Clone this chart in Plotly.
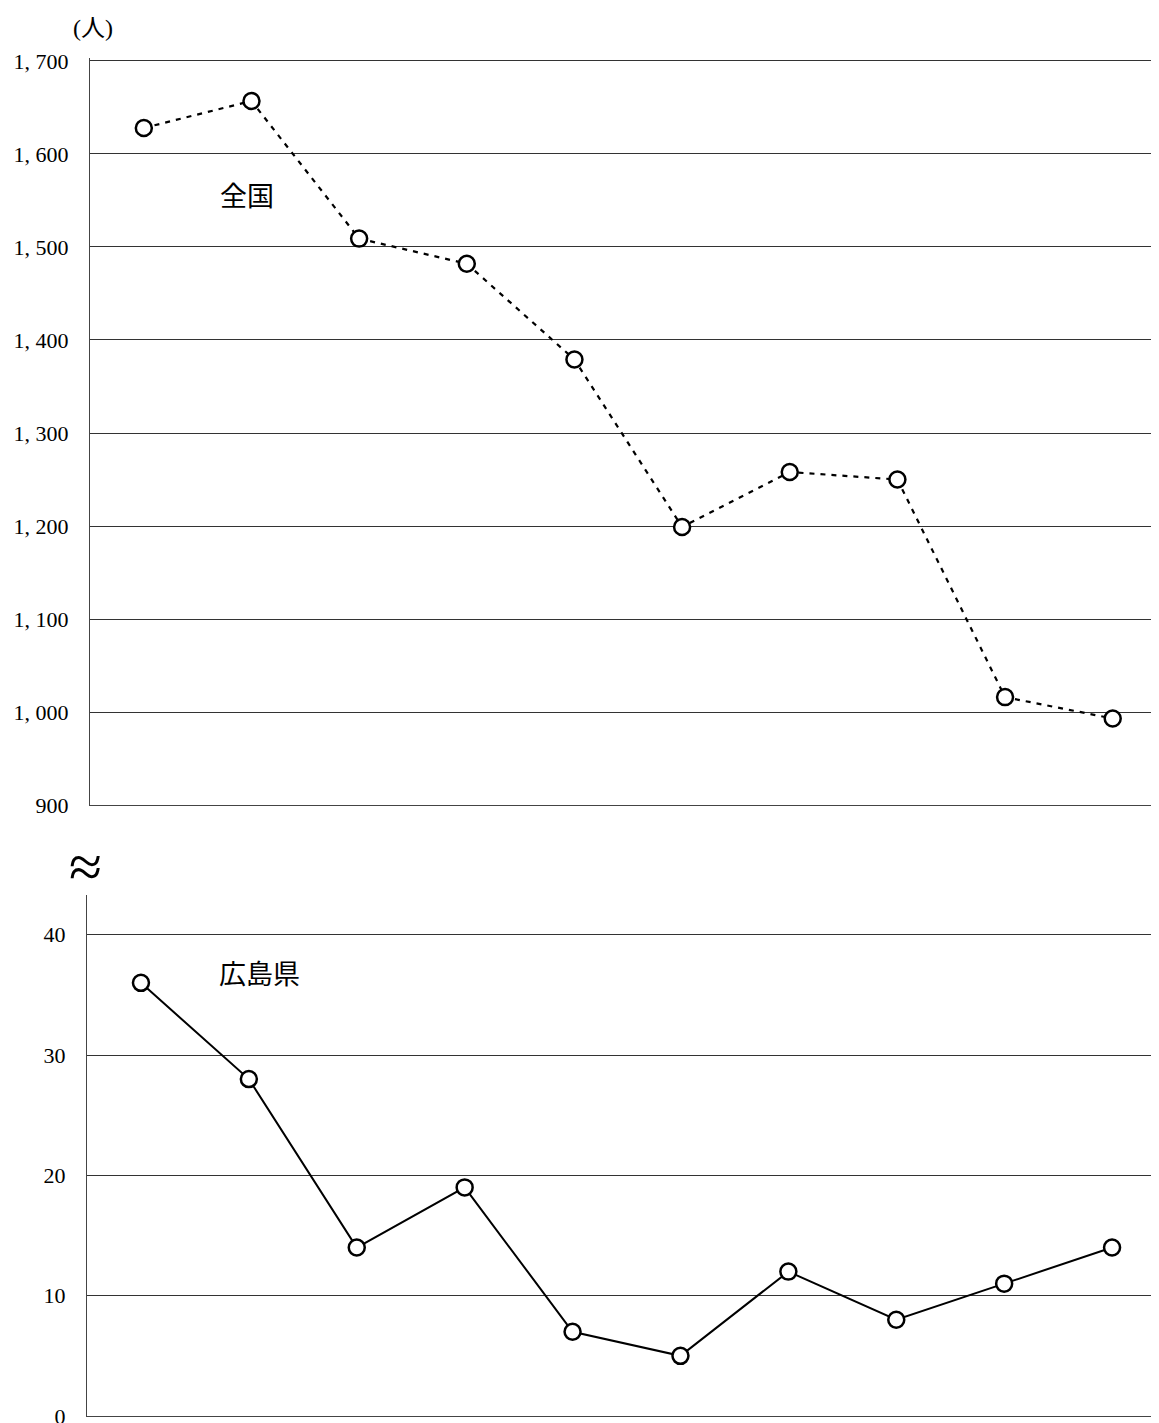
"""Two-panel line chart: 全国 (top, dotted) and 広島県 (bottom, solid), shared category axis."""

import plotly.graph_objects as go

# the page body keeps its default 8px margin, so the figure is 8px smaller than the window
W, H = 1151, 1415

# data (10 periods, no visible category labels)
periods = list(range(10))
zenkoku = [1628, 1657, 1509, 1482, 1379, 1199, 1258, 1250, 1016, 993]
hiroshima = [36, 28, 14, 19, 7, 5, 12, 8, 11, 14]

top_ticks = [900, 1000, 1100, 1200, 1300, 1400, 1500, 1600, 1700]
top_ticktext = ["900", "1, 000", "1, 100", "1, 200", "1, 300", "1, 400", "1, 500", "1, 600", "1, 700"]
bottom_ticks = [0, 10, 20, 30, 40]

SERIF = "Liberation Serif, 'Noto Sans CJK JP', serif"
CJK = "'Noto Sans CJK JP', sans-serif"

marker = dict(symbol="circle", size=16, color="white", line=dict(color="black", width=2.5))

fig = go.Figure()
fig.add_trace(go.Scatter(
    x=periods, y=zenkoku, mode="lines+markers", xaxis="x", yaxis="y",
    line=dict(color="black", width=2.2, dash="5px,6px"), marker=marker,
))
fig.add_trace(go.Scatter(
    x=periods, y=hiroshima, mode="lines+markers", xaxis="x2", yaxis="y2",
    line=dict(color="black", width=2), marker=marker,
))

axis_common = dict(
    showline=True, linecolor="#444", linewidth=1, mirror=False,
    zeroline=False, ticks="", fixedrange=True,
)

# top range runs a little past 1,700 so plotly keeps the top gridline
fig.update_layout(
    width=W, height=H,
    margin=dict(l=0, r=0, t=0, b=0),
    paper_bgcolor="white", plot_bgcolor="white",
    showlegend=False,
    font=dict(family=SERIF, size=22, color="black"),
    xaxis=dict(domain=[82 / W, 1], range=[-0.5, 9.43], showticklabels=False,
               showgrid=False, anchor="y", **axis_common),
    yaxis=dict(domain=[1 - 797 / H, 1 - 50.2 / H], range=[900, 1703],
               tickvals=top_ticks, ticktext=top_ticktext, showgrid=True,
               gridcolor="#333", gridwidth=1, anchor="x", automargin=False,
               ticklabelstandoff=16, **axis_common),
    xaxis2=dict(domain=[79 / W, 1], range=[-0.5, 9.435], showticklabels=False,
                showgrid=False, anchor="y2", **axis_common),
    yaxis2=dict(domain=[1 - 1408 / H, 1 - 887 / H], range=[0, 43.3],
                tickvals=bottom_ticks, showgrid=True, gridcolor="#333",
                gridwidth=1, anchor="x2", automargin=False,
                ticklabelstandoff=16, ticklabeloverflow="allow", **axis_common),
)

annotations = [
    dict(text="(人)", x=85 / W, y=1 - 20 / H, font=dict(family=SERIF, size=24)),
    dict(text="全国", x=239 / W, y=1 - 186 / H, font=dict(family=CJK, size=27)),
    dict(text="広島県", x=251 / W, y=1 - 964 / H, font=dict(family=CJK, size=27)),
    dict(text="≈", x=77 / W, y=1 - 859 / H, font=dict(family="Liberation Serif", size=60)),
]
for a in annotations:
    fig.add_annotation(xref="paper", yref="paper", showarrow=False,
                       xanchor="center", yanchor="middle", **a)

fig.write_html("out.html")
